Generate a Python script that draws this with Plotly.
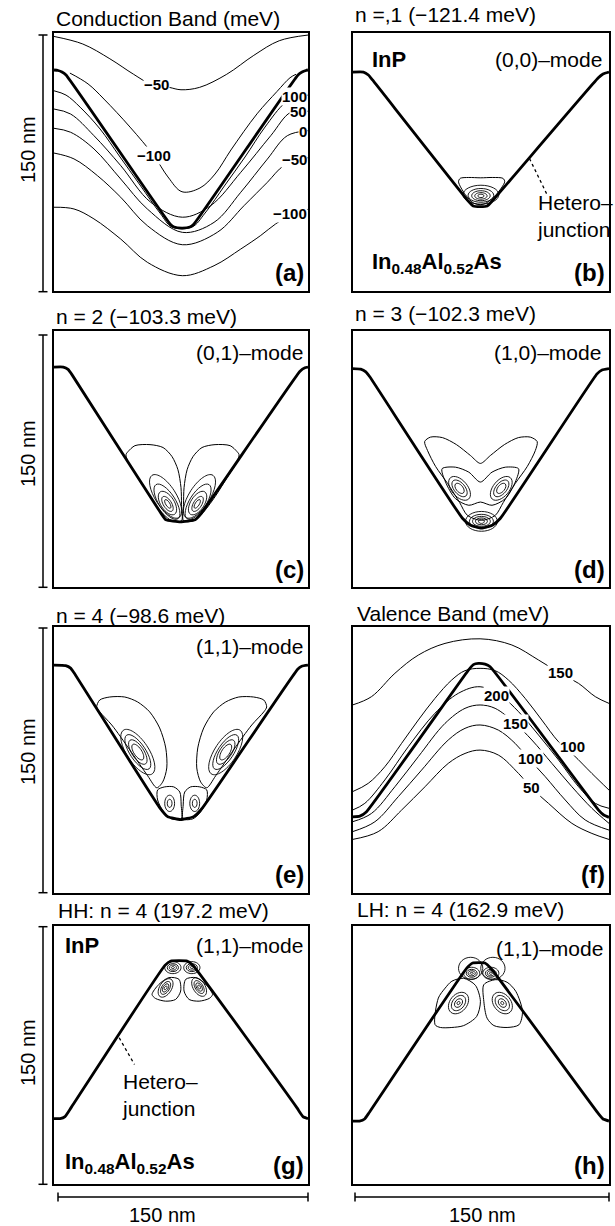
import math
import plotly.graph_objects as go

# ====================== DATA (all coordinates in nm, 150 nm x 150 nm cells) ======================
# ---- (a) Conduction band potential contours ----
a_het_x = [0, 2.4, 4.7, 7.1, 68.5, 70.9, 75.6, 80.3, 82.7, 144.1, 146.5, 148.8, 150]
a_het_y = [128.5, 128.2, 127.3, 125.6, 39.0, 37.2, 36.6, 37.2, 39.0, 125.6, 127.3, 128.2, 128.5]
a_top_m50_x = [0, 17, 33, 47, 57, 68, 75, 86, 102, 118, 133, 150]
a_top_m50_y = [148, 143.6, 135, 126, 120.4, 118.4, 117, 118.4, 126, 137, 145.5, 148.8]
a_in_m100_x = [9.4, 20.1, 29.5, 44.9, 59.1, 67.3, 75.6, 86.2, 95.1, 104.5, 119.9, 131.7, 139.4, 142.9]
a_in_m100_y = [126.7, 120.4, 111.6, 95.3, 78.5, 66.3, 57.7, 59.9, 68, 82, 103, 116, 124, 126]
a_p100_x = [0, 7.1, 15.4, 27.2, 39.0, 50.8, 62.6, 69.7, 81.5, 89.2, 101.0, 112.8, 124.6, 136.4, 144.1, 150]
a_p100_y = [116.4, 113.9, 106.9, 94.2, 77.9, 61.6, 45.3, 37.2, 37.2, 45.3, 61.6, 77.9, 95.3, 109.3, 112.8, 113.9]
a_p50_x = [0, 9.8, 23.6, 39.4, 57.1, 75.8, 92.5, 110.3, 128.0, 139.8, 150]
a_p50_y = [105.8, 102.9, 90.3, 72.9, 51.6, 42.9, 49.6, 69.0, 90.3, 103.9, 104.5]
a_0_x = [0, 9.8, 23.6, 39.4, 55.1, 75.8, 94.5, 110.3, 126.0, 137.8, 150]
a_0_y = [94.6, 92.3, 82.6, 65.1, 47.7, 34.1, 39.9, 57.4, 76.7, 90.3, 93.2]
a_m50_x = [0, 11.8, 25.6, 39.4, 55.1, 75.8, 96.4, 112.2, 126.0, 135.8, 150]
a_m50_y = [80.2, 76.8, 67.1, 54.5, 38.0, 26.9, 34.1, 49.6, 63.2, 72.9, 77.5]
a_m100_x = [0, 11.8, 23.6, 39.4, 55.1, 75.8, 94.5, 110.3, 122.1, 130.9, 142, 150]
a_m100_y = [48.7, 47.7, 41.9, 30.2, 16.7, 8.9, 14.7, 24.4, 32.3, 39.0, 45.3, 47.5]
a_lab_text = ["−50", "−100", "100", "50", "0", "−50", "−100"]
a_lab_x = [60.6, 59.1, 150, 150, 150, 150, 150]
a_lab_y = [119.9, 78.5, 113.1, 104.1, 92.7, 76.2, 45.3]

# ---- (b) n=1 (0,0)-mode ----
b_het_x = [0, 6.4, 9.3, 11.7, 67.7, 70.6, 74.7, 78.8, 81.7, 143.6, 146.5, 150]
b_het_y = [127.3, 127.3, 125.6, 122.7, 52.3, 49.4, 49.0, 49.4, 52.3, 123.8, 126.2, 127.3]
b_out_x = [62, 63, 68, 75, 82, 88, 89, 84, 78, 74.7, 71, 66, 62]
b_out_y = [63.5, 65.5, 66, 65.8, 66, 65.5, 63.5, 56, 51, 50.2, 51, 56, 63.5]
b_ring_cx = [75.1, 75.1, 75.1, 75.1, 75.1]
b_ring_cy = [56.0, 55.6, 55.4, 55.3, 55.3]
b_ring_a = [10.5, 7.5, 5.4, 3.6, 1.8]
b_ring_b = [5.5, 4.0, 2.9, 1.9, 1.0]
b_ring_ang = [0, 0, 0, 0, 0]

# ---- (c) n=2 (0,1)-mode ----
c_het_x = [0, 5.5, 8.3, 10.5, 62.6, 66.1, 74.7, 83.3, 86.8, 145.3, 148.2, 150]
c_het_y = [128.9, 128.9, 127.5, 124.6, 44.2, 39.5, 38.3, 39.5, 43.0, 126.5, 128.5, 128.9]
c_lobeL_x = [75.3, 75.3, 75.0, 73.2, 69.7, 64.4, 56.7, 47.8, 43.7, 42.5, 43.7, 49.6, 56.7, 64.4, 69.7, 75.3]
c_lobeL_y = [38.9, 48.3, 58.3, 68.8, 76.5, 81.8, 83.5, 82.9, 79.4, 77.6, 73.5, 64.2, 53.0, 43.0, 38.9, 38.9]
c_lobeR_x = [76.5, 76.5, 76.8, 78.6, 82.1, 87.4, 95.1, 104.0, 108.1, 109.3, 108.1, 102.2, 95.1, 87.4, 82.1, 76.5]
c_lobeR_y = [38.9, 48.3, 58.3, 68.8, 76.5, 81.8, 83.5, 82.9, 79.4, 77.6, 73.5, 64.2, 53.0, 43.0, 38.9, 38.9]
c_ring_cx = [65.9, 66.7, 67.0, 67.0, 67.2, 85.9, 85.1, 84.8, 84.8, 84.6]
c_ring_cy = [53.2, 50.1, 49.3, 48.8, 48.8, 53.2, 50.1, 49.3, 48.8, 48.8]
c_ring_a = [14.7, 11.9, 7.8, 5.0, 2.9, 14.7, 11.9, 7.8, 5.0, 2.9]
c_ring_b = [6.1, 4.9, 4.0, 2.4, 1.2, 6.1, 4.9, 4.0, 2.4, 1.2]
c_ring_ang = [-57, -57, -57, -57, -57, 57, 57, 57, 57, 57]

# ---- (d) n=3 (1,0)-mode ----
d_het_x = [0, 4.8, 7.8, 10.1, 64.3, 69.0, 75.4, 81.8, 86.5, 143.0, 145.9, 150]
d_het_y = [128.0, 127.7, 126.1, 123.2, 40.4, 36.3, 34.6, 36.3, 40.4, 124.9, 127.2, 128.0]
d_boom_x = [75.4, 83.5, 88.2, 95.2, 102.2, 106.9, 108.0, 104.0, 97.0, 88.8, 80.6, 74.8, 69.0,
            60.8, 52.6, 45.6, 42.2, 43.9, 48.6, 55.6, 62.6, 67.2, 75.4]
d_boom_y = [39.2, 42.1, 49.7, 60.8, 70.7, 80.0, 85.3, 87.9, 87.6, 83.5, 77.1, 72.5, 77.1,
            83.5, 87.6, 87.9, 85.3, 80.0, 70.7, 60.8, 49.7, 42.1, 39.2]
d_bfly_x = [74.8, 81.6, 89.4, 95.2, 97.1, 89.4, 81.6, 74.8, 68.0, 60.2, 52.4, 54.4, 60.2, 68.0, 74.8]
d_bfly_y = [49.9, 48.0, 51.9, 61.6, 69.4, 70.3, 67.4, 61.6, 67.4, 70.3, 69.4, 61.6, 51.9, 48.0, 49.9]
d_ring_cx = [62.6, 62.6, 62.6, 87.0, 87.0, 87.0, 75.4, 75.4, 75.4, 75.4, 75.4]
d_ring_cy = [57.9, 57.9, 57.9, 57.9, 57.9, 57.9, 38.6, 38.6, 38.6, 38.6, 38.6]
d_ring_a = [8.2, 5.8, 3.5, 8.2, 5.8, 3.5, 9.3, 7.0, 5.2, 3.5, 1.7]
d_ring_b = [4.7, 3.2, 2.0, 4.7, 3.2, 2.0, 5.8, 4.1, 2.9, 2.0, 1.2]
d_ring_ang = [-50, -50, -50, 50, 50, 50, 0, 0, 0, 0, 0]

# ---- (e) n=4 (1,1)-mode ----
e_het_x = [0, 6.9, 9.8, 11.6, 62.4, 67.1, 74.8, 82.5, 87.8, 143.9, 146.3, 150]
e_het_y = [128.6, 128.3, 126.9, 124.6, 48.1, 43.0, 41.3, 43.0, 48.1, 126.3, 128.0, 128.6]
e_lobeUL_x = [60.7, 64.2, 66.6, 66.0, 62.4, 56.5, 49.4, 41.8, 32.9, 27.0, 25.2, 27.0, 34.1, 44.7, 55.3, 60.7]
e_lobeUL_y = [59.3, 62.6, 70.5, 81.8, 93.1, 102.2, 107.8, 110.6, 110.6, 108.9, 105.0, 102.2, 94.8, 80.8, 66.1, 59.3]
e_lobeUR_x = [90.2, 86.6, 84.3, 84.9, 88.4, 94.3, 101.4, 109.1, 117.9, 123.9, 125.6, 123.9, 116.8, 106.1, 95.5, 90.2]
e_lobeUR_y = [59.3, 62.6, 70.5, 81.8, 93.1, 102.2, 107.8, 110.6, 110.6, 108.9, 105.0, 102.2, 94.8, 80.8, 66.1, 59.3]
e_lobeBL_x = [75.1, 75.1, 74.3, 70.7, 65.4, 61.2, 61.2, 64.8, 69.5, 75.1]
e_lobeBL_y = [41.7, 49.6, 56.9, 59.8, 59.8, 58.1, 52.4, 45.6, 41.7, 41.7]
e_lobeBR_x = [76.3, 76.3, 77.2, 80.7, 86.1, 90.2, 90.2, 86.6, 81.9, 76.3]
e_lobeBR_y = [41.7, 49.6, 56.9, 59.8, 59.8, 58.1, 52.4, 45.6, 41.7, 41.7]
e_ring_cx = [49.5, 49.5, 49.5, 49.5, 101.4, 101.4, 101.4, 101.4, 68.3, 68.3, 83.1, 83.1]
e_ring_cy = [79.5, 79.5, 79.5, 79.5, 79.5, 79.5, 79.5, 79.5, 50.5, 50.5, 50.5, 50.5]
e_ring_a = [15.0, 11.6, 8.1, 5.2, 15.0, 11.6, 8.1, 5.2, 4.6, 2.3, 4.6, 2.3]
e_ring_b = [6.4, 4.6, 3.5, 2.3, 6.4, 4.6, 3.5, 2.3, 2.9, 1.4, 2.9, 1.4]
e_ring_ang = [-55, -55, -55, -55, 55, 55, 55, 55, 90, 90, 90, 90]

# ---- (f) Valence band potential contours ----
f_het_x = [0, 4.3, 8.2, 67.8, 70.7, 73.6, 77.5, 80.5, 143.9, 146.9, 150]
f_het_y = [42.9, 43.3, 45.8, 125.8, 128.9, 129.6, 129.2, 127.7, 46.7, 43.9, 42.6]
f_top150_x = [0, 11.1, 24.8, 38.5, 54.1, 74.6, 93.2, 108.8, 121.5, 132.2, 142.0, 150]
f_top150_y = [106.1, 110.8, 124.0, 134.3, 140.9, 143.5, 140.0, 131.5, 124.0, 118.3, 110.8, 107.0]
f_out100_x = [0, 9.2, 18.9, 28.7, 38.5, 48.2, 58.0, 65.8, 74.6, 83.4, 91.2, 101.0, 110.7, 120.5, 129.3, 140.0, 150]
f_out100_y = [57.1, 61.8, 71.2, 84.4, 97.6, 109.8, 120.2, 125.5, 126.8, 125.5, 120.2, 109.8, 97.6, 85.3, 77.8, 67.4, 58.0]
f_200_x = [0, 7.2, 18.9, 32.6, 48.2, 61.9, 74.6, 87.3, 97.1, 108.8, 120.5, 132.2, 142.0, 150]
f_200_y = [46.7, 50.5, 63.7, 82.5, 101.4, 112.7, 116.4, 110.8, 102.3, 89.1, 75.0, 59.9, 50.5, 47.7]
f_150_x = [0, 11.1, 24.8, 38.5, 54.1, 65.8, 74.6, 83.4, 95.1, 104.9, 116.6, 128.3, 140.0, 150]
f_150_y = [40.1, 44.8, 59.9, 76.9, 95.7, 104.2, 106.1, 104.2, 95.7, 86.3, 73.1, 59.9, 47.7, 39.2]
f_100_x = [0, 13.1, 26.8, 40.4, 56.0, 65.8, 74.6, 85.3, 95.1, 102.9, 112.7, 124.4, 136.1, 150]
f_100_y = [34.5, 40.1, 54.3, 69.3, 86.3, 92.9, 94.8, 91.9, 84.4, 75.9, 65.6, 52.4, 41.1, 35.4]
f_50_x = [0, 15.0, 28.7, 42.4, 56.0, 65.8, 74.6, 85.3, 97.1, 104.9, 114.6, 128.3, 140.0, 150]
f_50_y = [30.1, 34.5, 46.7, 59.9, 73.1, 78.7, 80.6, 77.8, 67.4, 59.0, 50.5, 39.2, 33.5, 30.1]
f_lab_text = ["150", "200", "150", "100", "50", "100"]
f_lab_x = [121.6, 84.4, 95.5, 104.0, 104.9, 128.9]
f_lab_y = [124.2, 111.7, 95.9, 76.1, 59.3, 82.4]

# ---- (g) HH n=4 (1,1)-mode ----
g_het_x = [0, 3.6, 6.5, 10.1, 65.5, 69.0, 78.6, 82.1, 143.4, 147.0, 150]
g_het_y = [38.0, 38.0, 39.2, 44.4, 127.1, 129.6, 129.6, 127.1, 44.4, 39.2, 38.0]
g_lobeL_x = [57.9, 61.9, 67.9, 73.8, 74.8, 71.8, 65.9, 59.9, 57.9]
g_lobeL_y = [110.2, 116.0, 120.0, 119.0, 112.2, 107.3, 106.3, 107.9, 110.2]
g_lobeR_x = [93.6, 89.7, 83.7, 77.8, 76.8, 79.8, 85.7, 91.7, 93.6]
g_lobeR_y = [110.2, 116.0, 120.0, 119.0, 112.2, 107.3, 106.3, 107.9, 110.2]
g_ring_cx = [65.9, 65.9, 65.9, 65.9, 85.7, 85.7, 85.7, 85.7, 70.2, 70.2, 70.2, 70.2, 81.4, 81.4, 81.4, 81.4]
g_ring_cy = [114.0, 114.0, 114.0, 114.0, 114.5, 114.5, 114.5, 114.5, 125.8, 125.8, 125.8, 125.8, 125.8, 125.8, 125.8, 125.8]
g_ring_a = [6.0, 4.2, 2.7, 1.2, 6.0, 4.2, 2.7, 1.2, 4.8, 3.3, 2.1, 0.9, 4.8, 3.3, 2.1, 0.9]
g_ring_b = [3.5, 2.3, 1.5, 0.7, 3.5, 2.3, 1.5, 0.7, 3.5, 2.3, 1.5, 0.6, 3.5, 2.3, 1.5, 0.6]
g_ring_ang = [57, 57, 57, 57, -57, -57, -57, -57, 0, 0, 0, 0, 0, 0, 0, 0]

# ---- (h) LH n=4 (1,1)-mode ----
h_het_x = [0, 4.1, 7.1, 10.0, 66.7, 70.3, 77.4, 80.9, 143.5, 146.5, 150]
h_het_y = [36.6, 36.6, 37.8, 41.9, 125.4, 128.5, 128.5, 125.4, 41.3, 37.8, 36.6]
h_lobeL_x = [48.3, 50.2, 54.2, 58.1, 65.0, 71.9, 74.8, 72.6, 65.0, 58.1, 51.4, 48.3]
h_lobeL_y = [92.6, 108.1, 113.9, 117.9, 119.6, 115.5, 106.2, 97.4, 92.1, 91.0, 91.0, 92.6]
h_lobeR_x = [76.8, 83.7, 90.4, 95.5, 99.4, 97.4, 90.4, 82.7, 78.7, 76.8, 76.8]
h_lobeR_y = [115.9, 118.8, 117.3, 112.0, 100.3, 92.6, 91.0, 92.1, 96.4, 106.2, 115.9]
h_ring_cx = [69.1, 69.7, 69.7, 69.7, 69.7, 82.1, 80.9, 80.9, 80.9, 80.9, 62.0, 62.0, 62.0, 62.0, 87.6, 87.6, 87.6, 87.6]
h_ring_cy = [125.4, 122.5, 122.5, 122.5, 122.5, 125.4, 122.5, 122.5, 122.5, 122.5, 105.2, 105.2, 105.2, 105.2, 105.2, 105.2, 105.2, 105.2]
h_ring_a = [7.1, 4.7, 3.2, 2.1, 0.9, 7.1, 4.7, 3.2, 2.1, 0.9, 7.0, 5.0, 2.8, 1.0, 7.0, 5.0, 2.8, 1.0]
h_ring_b = [6.4, 3.5, 2.3, 1.5, 0.6, 6.4, 3.5, 2.3, 1.5, 0.6, 5.0, 3.5, 2.0, 0.8, 5.0, 3.5, 2.0, 0.8]
h_ring_ang = [0, 0, 0, 0, 0, 0, 0, 0, 0, 0, 50, 50, 50, 50, -50, -50, -50, -50]

# ---- titles ----
titles = ["Conduction Band (meV)", "n =,1 (−121.4 meV)", "n = 2 (−103.3 meV)", "n = 3 (−102.3 meV)",
          "n = 4 (−98.6 meV)", "Valence Band (meV)", "HH: n = 4 (197.2 meV)", "LH: n = 4 (162.9 meV)"]
panel_tags = ["(a)", "(b)", "(c)", "(d)", "(e)", "(f)", "(g)", "(h)"]

# ====================== FIGURE ======================
FONT = "Liberation Sans, Arial, Helvetica, sans-serif"
W, H = 615, 1226
col_dom = [[54 / W, 308 / W], [352.5 / W, 609 / W]]
row_px = [(33, 291), (331, 587.3), (627.3, 892.7), (926, 1184)]
row_dom = [[1 - b / H, 1 - t / H] for t, b in row_px]

fig = go.Figure()
shapes = []
annos = []


def refs(i):
    return ("x" if i == 1 else f"x{i}"), ("y" if i == 1 else f"y{i}")


def line(i, xs, ys, width=1.0, smooth=1.0, dash=None):
    xr, yr = refs(i)
    fig.add_trace(go.Scatter(x=xs, y=ys, xaxis=xr, yaxis=yr, mode="lines", hoverinfo="skip",
                             showlegend=False,
                             line=dict(color="black", width=width, shape="spline",
                                       smoothing=smooth, dash=dash)))


def rings(i, cx, cy, ra, rb, ang):
    xr, yr = refs(i)
    k = 0.5523
    for x0, y0, a, b, g in zip(cx, cy, ra, rb, ang):
        t = math.radians(g)
        ux, uy = a * math.cos(t), a * math.sin(t)
        vx, vy = -b * math.sin(t), b * math.cos(t)

        def P(p, q):
            return f"{x0 + p * ux + q * vx:.3f},{y0 + p * uy + q * vy:.3f}"
        path = (f"M {P(1, 0)} C {P(1, k)} {P(k, 1)} {P(0, 1)} "
                f"C {P(-k, 1)} {P(-1, k)} {P(-1, 0)} "
                f"C {P(-1, -k)} {P(-k, -1)} {P(0, -1)} "
                f"C {P(k, -1)} {P(1, -k)} {P(1, 0)} Z")
        shapes.append(dict(type="path", path=path, xref=xr, yref=yr,
                           line=dict(color="black", width=0.9), layer="above"))


def text(i, s, x, y, size=20, xanchor="center", yanchor="middle", bg=None, bold=False):
    xr, yr = refs(i)
    d = dict(text=s, x=x, y=y, xref=xr, yref=yr, showarrow=False, xanchor=xanchor,
             yanchor=yanchor, align="left",
             font=dict(family=FONT, size=size, color="black", weight="bold" if bold else "normal"))
    if bg:
        d.update(bgcolor=bg, borderpad=0)
    annos.append(d)


HET_W = 2.8
# (a)
for xs, ys in [(a_top_m50_x, a_top_m50_y), (a_in_m100_x, a_in_m100_y), (a_p100_x, a_p100_y),
               (a_p50_x, a_p50_y), (a_0_x, a_0_y), (a_m50_x, a_m50_y), (a_m100_x, a_m100_y)]:
    line(1, xs, ys, 1.0)
line(1, a_het_x, a_het_y, HET_W, 0.4)
for s, x, y in zip(a_lab_text, a_lab_x, a_lab_y):
    text(1, s, x, y, 15, xanchor="right" if x >= 150 else "center", bg="white", bold=True)

# (b)
line(2, b_het_x, b_het_y, HET_W, 0.4)
line(2, b_out_x, b_out_y, 1.0, 0.8)
rings(2, b_ring_cx, b_ring_cy, b_ring_a, b_ring_b, b_ring_ang)
line(2, [103.5, 113.7], [77.0, 56.2], 1.3, 0, dash="dot")

# (c)
line(3, c_het_x, c_het_y, HET_W, 0.4)
line(3, c_lobeL_x, c_lobeL_y, 1.0, 0.8)
line(3, c_lobeR_x, c_lobeR_y, 1.0, 0.8)
rings(3, c_ring_cx, c_ring_cy, c_ring_a, c_ring_b, c_ring_ang)

# (d)
line(4, d_het_x, d_het_y, HET_W, 0.4)
line(4, d_boom_x, d_boom_y, 1.0, 0.8)
line(4, d_bfly_x, d_bfly_y, 1.0, 0.8)
rings(4, d_ring_cx, d_ring_cy, d_ring_a, d_ring_b, d_ring_ang)

# (e)
line(5, e_het_x, e_het_y, HET_W, 0.4)
for xs, ys in [(e_lobeUL_x, e_lobeUL_y), (e_lobeUR_x, e_lobeUR_y),
               (e_lobeBL_x, e_lobeBL_y), (e_lobeBR_x, e_lobeBR_y)]:
    line(5, xs, ys, 1.0, 0.8)
rings(5, e_ring_cx, e_ring_cy, e_ring_a, e_ring_b, e_ring_ang)

# (f)
for xs, ys in [(f_top150_x, f_top150_y), (f_out100_x, f_out100_y), (f_200_x, f_200_y),
               (f_150_x, f_150_y), (f_100_x, f_100_y), (f_50_x, f_50_y)]:
    line(6, xs, ys, 1.0)
line(6, f_het_x, f_het_y, HET_W, 0.4)
for s, x, y in zip(f_lab_text, f_lab_x, f_lab_y):
    text(6, s, x, y, 15, bg="white", bold=True)

# (g)
line(7, g_het_x, g_het_y, HET_W, 0.4)
line(7, g_lobeL_x, g_lobeL_y, 1.0, 0.8)
line(7, g_lobeR_x, g_lobeR_y, 1.0, 0.8)
rings(7, g_ring_cx, g_ring_cy, g_ring_a, g_ring_b, g_ring_ang)
line(7, [38.5, 47.5], [85.0, 69.5], 1.3, 0, dash="dot")

# (h)
line(8, h_het_x, h_het_y, HET_W, 0.4)
line(8, h_lobeL_x, h_lobeL_y, 1.0, 0.8)
line(8, h_lobeR_x, h_lobeR_y, 1.0, 0.8)
rings(8, h_ring_cx, h_ring_cy, h_ring_a, h_ring_b, h_ring_ang)

# in-panel texts
TS = 21
text(2, "InP", 10.5, 134.7, 22, xanchor="left", bold=True)
text(2, "(0,0)–mode", 147, 134.7, TS, xanchor="right")
text(2, "Hetero–<br>junction", 106.8, 43.6, TS, xanchor="left")
text(2, "In<sub>0.48</sub>Al<sub>0.52</sub>As", 10.5, 16.5, 22, xanchor="left", bold=True)
text(3, "(0,1)–mode", 148.2, 137.5, TS, xanchor="right")
text(4, "(1,0)–mode", 146.5, 137.4, TS, xanchor="right")
text(5, "(1,1)–mode", 148.2, 139.0, TS, xanchor="right")
text(7, "InP", 5.4, 138.5, 22, xanchor="left", bold=True)
text(7, "(1,1)–mode", 148.2, 138.9, TS, xanchor="right")
text(7, "Hetero–<br>junction", 39.1, 51.9, TS, xanchor="left")
text(7, "In<sub>0.48</sub>Al<sub>0.52</sub>As", 5.4, 12.2, 22, xanchor="left", bold=True)
text(8, "(1,1)–mode", 147.7, 136.8, TS, xanchor="right")

for i in range(1, 9):
    text(i, panel_tags[i - 1], 149, 1.5, 24, xanchor="right", yanchor="bottom", bold=True)

# titles above panels (paper coords)
title_px = [(54, 19), (353, 15), (54, 316.5), (353, 314), (54, 615), (355, 614), (56, 910.5), (355, 909)]
for s, (px, py) in zip(titles, title_px):
    annos.append(dict(text=s, x=px / W, y=1 - py / H, xref="paper", yref="paper", showarrow=False,
                      xanchor="left", yanchor="middle", font=dict(family=FONT, size=21, color="black")))

# scale bars (150 nm)
BAR = dict(color="black", width=1.5)
for (t, b), yc in zip([(35, 291.7), (335, 587.3), (628, 892.7), (926.7, 1184.3)], [150, 454, 752, 1053]):
    shapes.append(dict(type="line", xref="paper", yref="paper", x0=43 / W, x1=43 / W,
                       y0=1 - t / H, y1=1 - b / H, line=BAR))
    for yy in (t, b):
        shapes.append(dict(type="line", xref="paper", yref="paper", x0=38.5 / W, x1=47.5 / W,
                           y0=1 - yy / H, y1=1 - yy / H, line=BAR))
    annos.append(dict(text="150 nm", x=28 / W, y=1 - yc / H, xref="paper", yref="paper", showarrow=False,
                      textangle=-90, xanchor="center", yanchor="middle",
                      font=dict(family=FONT, size=20, color="black")))
for x0, x1, xc in [(58, 308, 163), (355, 609, 482)]:
    shapes.append(dict(type="line", xref="paper", yref="paper", x0=x0 / W, x1=x1 / W,
                       y0=1 - 1197 / H, y1=1 - 1197 / H, line=BAR))
    for xx in (x0, x1):
        shapes.append(dict(type="line", xref="paper", yref="paper", x0=xx / W, x1=xx / W,
                           y0=1 - 1192.5 / H, y1=1 - 1201.5 / H, line=BAR))
    annos.append(dict(text="150 nm", x=xc / W, y=1 - 1215 / H, xref="paper", yref="paper", showarrow=False,
                      xanchor="center", yanchor="middle", font=dict(family=FONT, size=20, color="black")))

layout = dict(width=W, height=H, margin=dict(l=0, r=0, t=0, b=0), paper_bgcolor="white",
              plot_bgcolor="white", showlegend=False, shapes=shapes, annotations=annos,
              font=dict(family=FONT))
for i in range(1, 9):
    xr, yr = refs(i)
    cdom = col_dom[(i - 1) % 2]
    rdom = row_dom[(i - 1) // 2]
    common = dict(range=[0, 150], showticklabels=False, ticks="", showgrid=False, zeroline=False,
                  showline=True, mirror=True, linecolor="black", linewidth=1.6, fixedrange=True)
    layout["xaxis" if i == 1 else f"xaxis{i}"] = dict(domain=cdom, anchor=yr, **common)
    layout["yaxis" if i == 1 else f"yaxis{i}"] = dict(domain=rdom, anchor=xr, **common)
fig.update_layout(**layout)
fig.write_html("out.html")
